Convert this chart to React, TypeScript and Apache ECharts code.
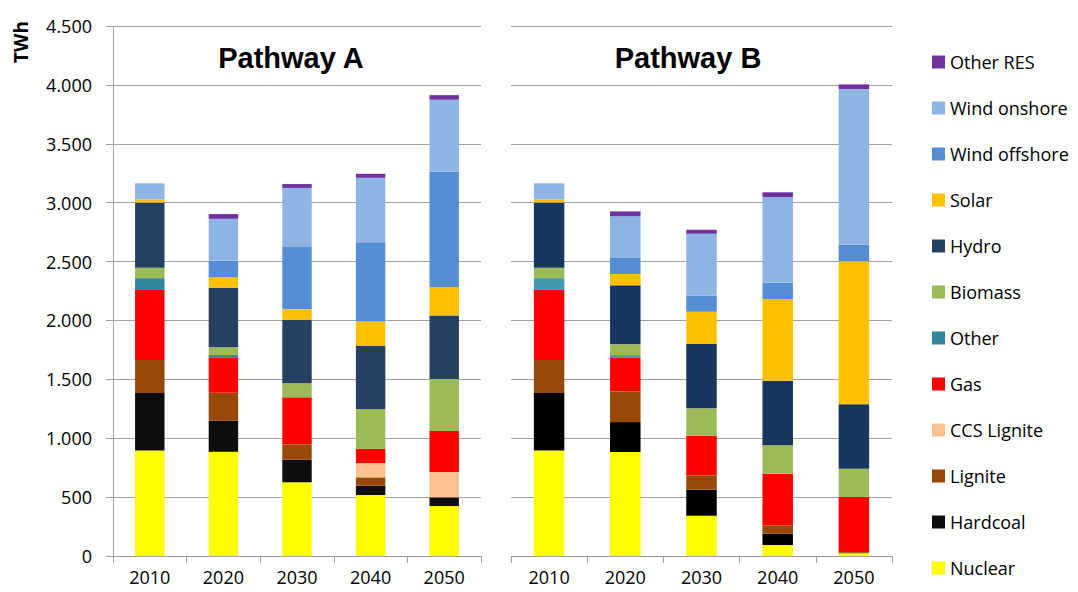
import React, { useEffect, useRef } from "react";
import * as echarts from "echarts";

const years = ["2010", "2020", "2030", "2040", "2050"];
const sources = ["Nuclear", "Hardcoal", "Lignite", "CCS Lignite", "Gas", "Other", "Biomass", "Hydro", "Solar", "Wind offshore", "Wind onshore", "Other RES"];
const colorsA = ["#FFFF00", "#0D0D0D", "#984807", "#FAC090", "#FF0000", "#31859C", "#9BBB59", "#254061", "#FFC000", "#558ED5", "#8EB4E3", "#7030A0"];
const colorsB = ["#FFFF00", "#000000", "#984807", "#FAC090", "#FF0000", "#4198AF", "#9BBB59", "#17375E", "#FFC000", "#558ED5", "#8EB4E3", "#7030A0"];

// Pathway A
const nuclearA = [895, 885, 626, 518, 424];
const hardcoalA = [490, 264, 192, 79, 74];
const ligniteA = [280, 237, 130, 71, 0];
const ccsLigniteA = [0, 0, 0, 121, 215];
const gasA = [594, 297, 399, 122, 348];
const otherA = [100, 23, 0, 0, 0];
const biomassA = [88, 66, 119, 337, 442];
const hydroA = [554, 506, 540, 537, 540];
const solarA = [25, 90, 88, 207, 241];
const windOffA = [0, 139, 530, 671, 978];
const windOnA = [138, 356, 501, 548, 612];
const otherResA = [0, 40, 33, 34, 39];

// Pathway B
const nuclearB = [895, 883, 342, 93, 23];
const hardcoalB = [490, 254, 221, 96, 0];
const ligniteB = [280, 261, 122, 72, 10];
const ccsLigniteB = [0, 0, 0, 0, 0];
const gasB = [594, 285, 336, 438, 468];
const otherB = [100, 23, 0, 0, 0];
const biomassB = [88, 91, 233, 241, 240];
const hydroB = [554, 501, 546, 548, 547];
const solarB = [25, 96, 274, 694, 1214];
const windOffB = [0, 136, 136, 138, 141];
const windOnB = [138, 356, 526, 728, 1321];
const otherResB = [0, 40, 34, 40, 40];

const dataA = [nuclearA, hardcoalA, ligniteA, ccsLigniteA, gasA, otherA, biomassA, hydroA, solarA, windOffA, windOnA, otherResA];
const dataB = [nuclearB, hardcoalB, ligniteB, ccsLigniteB, gasB, otherB, biomassB, hydroB, solarB, windOffB, windOnB, otherResB];

const yTicks = { min: 0, max: 4500, interval: 500 };
const FONT = "Open Sans";

export default function App() {
  const ref = useRef<HTMLDivElement>(null);
  useEffect(() => {
    if (!ref.current) return;
    const chart = echarts.init(ref.current, undefined, { renderer: "svg" });
    const fmt = (v: number) => String(v).replace(/\B(?=(\d{3})+(?!\d))/g, ".");
    const gridColor = "#A0A0A0";
    const xAxisCommon = {
      type: "category" as const,
      data: years,
      axisLine: { show: true, lineStyle: { color: gridColor, width: 1 } },
      axisTick: { show: true, length: 7, lineStyle: { color: gridColor } },
      axisLabel: { color: "#000", fontSize: 18, fontFamily: FONT, margin: 12 },
    };
    const series: any[] = [];
    sources.forEach((s, i) => {
      series.push({
        name: s, type: "bar", stack: "A", xAxisIndex: 0, yAxisIndex: 0,
        barWidth: "40%", data: dataA[i], itemStyle: { color: colorsA[i] },
      });
    });
    sources.forEach((s, i) => {
      series.push({
        name: s, type: "bar", stack: "B", xAxisIndex: 1, yAxisIndex: 1,
        barWidth: "40%", data: dataB[i], itemStyle: { color: colorsB[i] },
      });
    });
    chart.setOption({
      animation: false,
      backgroundColor: "#fff",
      grid: [
        { left: 113, right: 1078 - 481, top: 26, bottom: 592 - 556 },
        { left: 511, right: 1078 - 892, top: 26, bottom: 592 - 556 },
      ],
      xAxis: [{ ...xAxisCommon, gridIndex: 0 }, { ...xAxisCommon, gridIndex: 1 }],
      yAxis: [
        {
          type: "value", gridIndex: 0, ...yTicks,
          axisLine: { show: true, lineStyle: { color: gridColor } },
          axisTick: { show: true, length: 7, lineStyle: { color: gridColor } },
          splitLine: { show: true, lineStyle: { color: gridColor, width: 1 } },
          axisLabel: { color: "#000", fontSize: 18, fontFamily: FONT, margin: 21, formatter: fmt },
        },
        {
          type: "value", gridIndex: 1, ...yTicks,
          axisLine: { show: false }, axisTick: { show: false },
          splitLine: { show: true, lineStyle: { color: gridColor, width: 1 } },
          axisLabel: { show: false },
        },
      ],
      legend: {
        orient: "vertical",
        left: 932, top: 52,
        padding: 0,
        data: [...sources].reverse(),
        itemWidth: 13, itemHeight: 13, itemGap: 26,
        icon: "rect",
        textStyle: { color: "#000", fontSize: 18, fontFamily: FONT, lineHeight: 20, padding: [0, 0, 0, 0] },
        selectedMode: false,
      },
      graphic: [
        { type: "text", x: 21, y: 42, rotation: Math.PI / 2, style: { text: "TWh", align: "center", verticalAlign: "middle", font: `bold 19px '${FONT}'`, fill: "#000" } },
        { type: "text", x: 291, y: 58, style: { text: "Pathway A", align: "center", verticalAlign: "middle", font: "bold 29px 'Liberation Sans'", fill: "#000" } },
        { type: "text", x: 688, y: 58, style: { text: "Pathway B", align: "center", verticalAlign: "middle", font: "bold 29px 'Liberation Sans'", fill: "#000" } },
      ],
      series,
    });
    return () => chart.dispose();
  }, []);
  return <div ref={ref} style={{ width: 1078, height: 592, position: "absolute", left: 0, top: 0 }} />;
}
